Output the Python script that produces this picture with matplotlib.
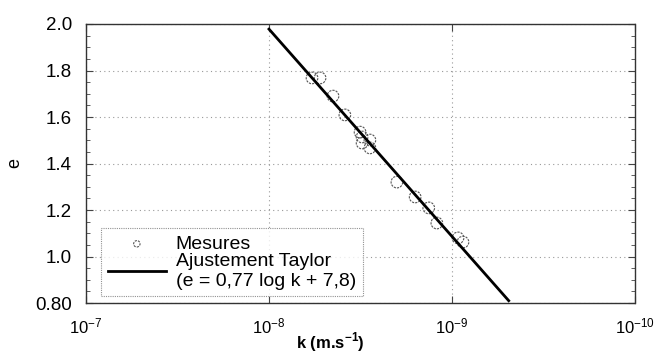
import numpy as np
import matplotlib.pyplot as plt
from matplotlib.ticker import FixedLocator, NullFormatter

plt.rcParams['font.family'] = ['Liberation Sans', 'DejaVu Sans']

# measured permeability k (m/s) and void ratio e
k_mes = [5.82e-9, 5.26e-9, 4.47e-9, 3.85e-9, 3.18e-9, 3.10e-9, 2.81e-9, 3.10e-9,
         2.81e-9, 2.00e-9, 1.59e-9, 1.34e-9, 1.21e-9, 9.27e-10, 8.71e-10]
e_mes = [1.768, 1.768, 1.690, 1.609, 1.535, 1.514, 1.501, 1.488,
         1.467, 1.320, 1.256, 1.209, 1.144, 1.080, 1.062]

# Taylor fit line end points
k_fit = [1e-8, 4.9e-10]
e_fit = [1.978, 0.81]

y_ticks = [0.8, 1.0, 1.2, 1.4, 1.6, 1.8, 2.0]
y_labels = ['0.80', '1.0', '1.2', '1.4', '1.6', '1.8', '2.0']
x_ticks = [1e-7, 1e-8, 1e-9, 1e-10]
x_labels = ['$\\mathregular{10^{-7}}$', '$\\mathregular{10^{-8}}$',
            '$\\mathregular{10^{-9}}$', '$\\mathregular{10^{-10}}$']

fig = plt.figure(figsize=(6.54, 3.55), dpi=100)
ax = fig.add_axes([86/654, 1 - 303/355, (635-86)/654, (303-24)/355])

ax.plot(k_fit, e_fit, color='black', lw=2.0, label='Ajustement Taylor\n(e = 0,77 log k + 7,8)', zorder=3)
ax.scatter(k_mes, e_mes, s=70, facecolors='none', edgecolors='#555555', linewidths=0.8,
           linestyle=(0, (2, 1)), label='Mesures', zorder=2)

ax.set_xscale('log')
ax.set_xlim(1e-7, 1e-10)
ax.set_ylim(0.8, 2.0)

ax.xaxis.set_major_locator(FixedLocator(x_ticks))
ax.xaxis.set_minor_locator(FixedLocator([]))
ax.set_xticklabels(x_labels, fontsize=12)
ax.set_yticks(y_ticks)
ax.set_yticklabels(y_labels, fontsize=13.5)
ax.yaxis.set_minor_locator(FixedLocator(np.arange(0.8, 2.0001, 0.05)))
ax.yaxis.set_minor_formatter(NullFormatter())

ax.tick_params(axis='both', which='both', direction='in', right=True, top=True,
               colors='#444444', labelcolor='black')
ax.tick_params(axis='y', which='major', length=5, pad=10)
ax.tick_params(axis='y', which='minor', length=3)
ax.tick_params(axis='x', which='major', length=5, pad=10)

ax.grid(True, which='major', color='#999999', lw=0.8, linestyle=(0, (1, 3)))

for sp in ax.spines.values():
    sp.set_color('#333333')
    sp.set_linewidth(1.0)
    sp.set_linestyle((0, (1, 1)))

ax.set_xlabel('k (m.s$^{\\mathregular{-1}}$)', fontsize=12, fontweight='bold')
ax.xaxis.set_label_coords(0.445, -0.1)
ax.set_ylabel('e', fontsize=13)
ax.yaxis.set_label_coords(-0.115, 0.5)

handles, labels = ax.get_legend_handles_labels()
leg = ax.legend(handles[::-1], labels[::-1], loc='lower left', bbox_to_anchor=(0.02, 0.01),
                fontsize=14, frameon=True, fancybox=False, handlelength=3.0, markerscale=0.55,
                borderpad=0.35, labelspacing=0.0, handletextpad=0.5, borderaxespad=0.2)
leg.get_frame().set_edgecolor('#777777')
leg.get_frame().set_linestyle((0, (1, 1)))
leg.get_frame().set_linewidth(0.8)

fig.savefig('out.png', dpi=100)
